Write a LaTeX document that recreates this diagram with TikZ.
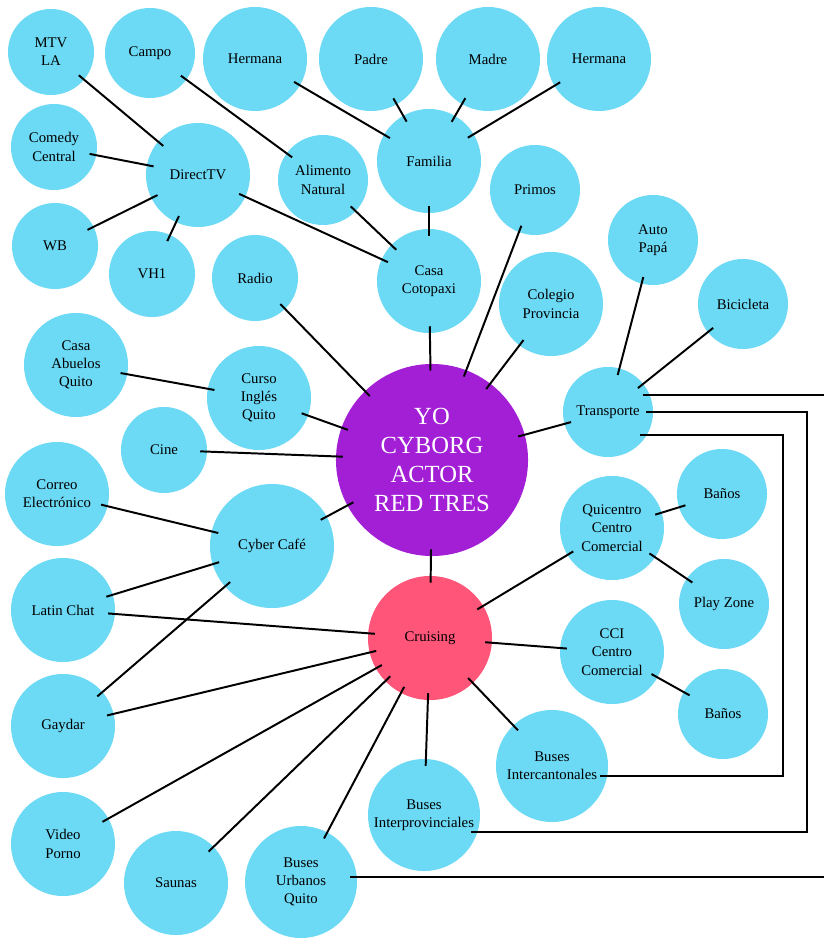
\documentclass[tikz,border=0pt]{standalone}
\usepackage{fontspec}
\setmainfont{Liberation Serif}
\usepackage{tikz}
\usepackage{xcolor}
\definecolor{bubble}{RGB}{108,217,245}
\definecolor{selfcol}{RGB}{163,31,214}
\definecolor{cruisecol}{RGB}{255,85,120}

\begin{document}
\begin{tikzpicture}[x=0.025cm, y=-0.025cm,
  bub/.style={circle, fill=bubble, minimum size=#1*0.05cm, inner sep=0pt, align=center,
    font=\fontsize{10.5}{13}\selectfont},
  link/.style={line width=1.4pt, shorten <=-5pt, shorten >=-5pt}]
\useasboundingbox (0,0) rectangle (823,938);
\node[bub=43] (mtv) at (51,52) {MTV\\LA};
\node[bub=45] (campo) at (150,53) {Campo};
\node[bub=52] (hermanaA) at (255,59) {Hermana};
\node[bub=52] (padre) at (371,59) {Padre};
\node[bub=52] (madre) at (488,59) {Madre};
\node[bub=52] (hermanaB) at (599,59) {Hermana};
\node[bub=43] (comedy) at (54,147) {Comedy\\Central};
\node[bub=52] (directv) at (198,175) {DirectTV};
\node[bub=45] (alimento) at (323,180) {Alimento\\Natural};
\node[bub=52] (familia) at (429,161) {Familia};
\node[bub=43] (wb) at (55,246) {WB};
\node[bub=43] (vh1) at (152,274) {VH1};
\node[bub=43] (radio) at (255,278) {Radio};
\node[bub=52] (cotopaxi) at (429,281) {Casa\\Cotopaxi};
\node[bub=45] (primos) at (535,190) {Primos};
\node[bub=52] (colegio) at (551,304) {Colegio\\Provincia};
\node[bub=45] (auto) at (653,240) {Auto\\Papá};
\node[bub=45] (bici) at (743,304) {Bicicleta};
\node[bub=52] (abuelos) at (76,365) {Casa\\Abuelos\\Quito};
\node[bub=52] (curso) at (259,398) {Curso\\Inglés\\Quito};
\node[bub=43] (cine) at (164,450) {Cine};
\node[bub=96, fill=selfcol, text=white, font=\fontsize{17.5}{20.6}\selectfont] (yo) at (432,460) {YO\\CYBORG\\ACTOR\\RED TRES};
\node[bub=45] (transporte) at (608,412) {Transporte};
\node[bub=52] (correo) at (57,494) {Correo\\Electrónico};
\node[bub=62] (cyber) at (272,546) {Cyber Café};
\node[bub=52] (quicentro) at (612,528) {Quicentro\\Centro\\Comercial};
\node[bub=45] (banosA) at (722,494) {Baños};
\node[bub=45] (play) at (724,604) {Play Zone};
\node[bub=52] (latin) at (63,610) {Latin Chat};
\node[bub=62, fill=cruisecol] (cruising) at (430,638) {Cruising};
\node[bub=52] (cci) at (612,652) {CCI\\Centro\\Comercial};
\node[bub=45] (banosB) at (723,714) {Baños};
\node[bub=52] (gaydar) at (63,726) {Gaydar};
\node[bub=56] (intercant) at (552,766) {Buses\\Intercantonales};
\node[bub=56] (interprov) at (424,815) {Buses\\Interprovinciales};
\node[bub=52] (video) at (63,844) {Video\\Porno};
\node[bub=52] (saunas) at (176,883) {Saunas};
\node[bub=56] (urbanos) at (301,882) {Buses\\Urbanos\\Quito};
\coordinate (railA) at (835,0);
\coordinate (railB) at (807,0);
\coordinate (railC) at (783,0);
\draw[link] (mtv) -- (directv);
\draw[link] (comedy) -- (directv);
\draw[link] (wb) -- (directv);
\draw[link] (vh1) -- (directv);
\draw[link] (directv) -- (cotopaxi);
\draw[link] (campo) -- (alimento);
\draw[link] (alimento) -- (cotopaxi);
\draw[link] (hermanaA) -- (familia);
\draw[link] (padre) -- (familia);
\draw[link] (madre) -- (familia);
\draw[link] (hermanaB) -- (familia);
\draw[link] (familia) -- (cotopaxi);
\draw[link] (cotopaxi) -- (yo);
\draw[link] (radio) -- (yo);
\draw[link] (primos) -- (yo);
\draw[link] (colegio) -- (yo);
\draw[link] (abuelos) -- (curso);
\draw[link] (curso) -- (yo);
\draw[link] (cine) -- (yo);
\draw[link] (cyber) -- (yo);
\draw[link] (correo) -- (cyber);
\draw[link] (latin) -- (cyber);
\draw[link] (gaydar) -- (cyber);
\draw[link] (transporte) -- (yo);
\draw[link] (auto) -- (transporte);
\draw[link] (bici) -- (transporte);
\draw[link] (yo) -- (cruising);
\draw[link] (latin) -- (cruising);
\draw[link] (gaydar) -- (cruising);
\draw[link] (video) -- (cruising);
\draw[link] (saunas) -- (cruising);
\draw[link] (urbanos) -- (cruising);
\draw[link] (interprov) -- (cruising);
\draw[link] (intercant) -- (cruising);
\draw[link] (cci) -- (cruising);
\draw[link] (quicentro) -- (cruising);
\draw[link] (quicentro) -- (banosA);
\draw[link] (quicentro) -- (play);
\draw[link] (cci) -- (banosB);
\draw[link] (transporte.22) -- (transporte.22 -| railA) |- (urbanos.5);
\draw[link] (transporte.east) -- (transporte.east -| railB) |- (interprov.-18);
\draw[link] (transporte.-30) -- (transporte.-30 -| railC) |- (intercant.-10);
\end{tikzpicture}
\end{document}
